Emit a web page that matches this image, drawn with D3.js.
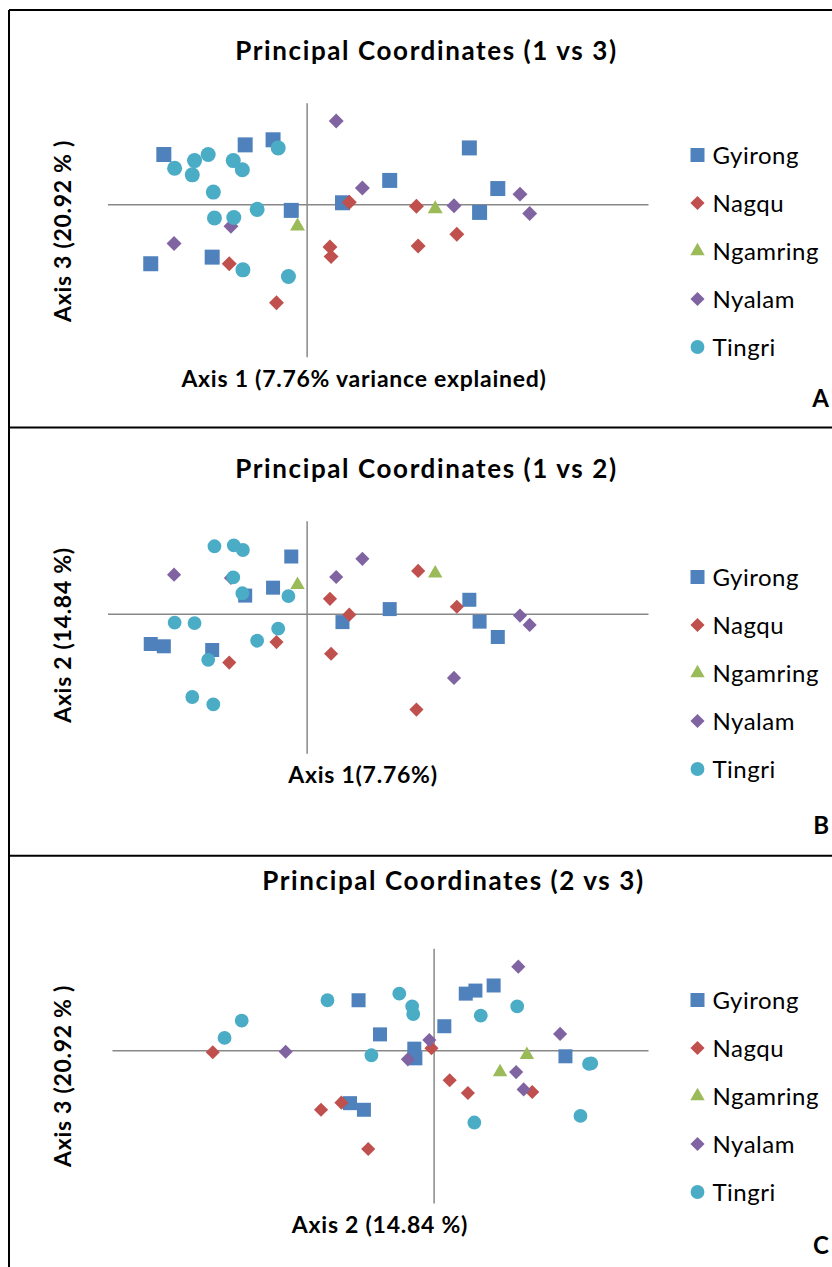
<!DOCTYPE html>
<html lang="en">
<head>
    <meta charset="UTF-8">
    <title>Principal Coordinates</title>
    <style>
        body { margin: 0; background: #fff; }
        svg { display: block; }
        text { font-family: Lato, "Open Sans", sans-serif; fill: #000; }
    </style>
    <script src="https://d3js.org/d3.v7.min.js"></script>
</head>
<body>
<svg id="chart" width="832" height="1267"></svg>
<script>
        // each sample: [axis 1, axis 2, axis 3]
        const groups = ["Gyirong", "Nagqu", "Ngamring", "Nyalam", "Tingri"];

        const gyirong = [
            [-0.251, -0.070, 0.098], [-0.108, 0.039, 0.117], [-0.059, 0.056, 0.127],
            [-0.027, 0.123, -0.012], [-0.274, -0.065, -0.117], [-0.166, -0.078, -0.104],
            [0.063, -0.018, 0.003], [0.146, 0.010, 0.047], [0.286, 0.030, 0.111],
            [0.336, -0.050, 0.031], [0.304, -0.017, -0.016]
        ];
        const nagqu = [
            [0.075, -0.002, 0.004], [0.041, 0.032, -0.084], [0.043, -0.086, -0.103],
            [-0.136, -0.105, -0.117], [-0.053, -0.061, -0.194], [0.193, -0.206, -0.004],
            [0.264, 0.015, -0.059], [0.196, 0.092, -0.082]
        ];
        const ngamring = [
            [-0.016, 0.062, -0.043], [0.226, 0.087, -0.009]
        ];
        const nyalam = [
            [0.052, 0.079, 0.164], [0.098, 0.118, 0.032], [-0.133, 0.077, -0.043],
            [-0.233, 0.084, -0.077], [0.259, -0.138, -0.003], [0.375, -0.004, 0.020],
            [0.392, -0.024, -0.018]
        ];
        const tingri = [
            [-0.050, -0.032, 0.111], [-0.173, -0.099, 0.098], [-0.197, -0.020, 0.086],
            [-0.232, -0.019, 0.071], [-0.201, -0.179, 0.058], [-0.129, 0.078, 0.086],
            [-0.113, 0.044, 0.068], [-0.164, -0.195, 0.024], [-0.087, -0.058, -0.010],
            [-0.162, 0.145, -0.027], [-0.128, 0.147, -0.026], [-0.112, 0.137, -0.129],
            [-0.032, 0.038, -0.142]
        ];
        const series = [gyirong, nagqu, ngamring, nyalam, tingri];

        const axisDomains = [[-0.35, 0.6], [-0.3, 0.2], [-0.3, 0.2]];

        const colors = ["#4f81bd", "#c0504d", "#9bbb59", "#8064a2", "#4bacc6"];
        const shapes = [
            d3.symbol(d3.symbolSquare, 225),
            d3.symbol(d3.symbolSquare, 112),
            d3.symbol(d3.symbolTriangle, 97),
            d3.symbol(d3.symbolSquare, 112),
            d3.symbol(d3.symbolCircle, 177)
        ];
        const legendSizes = [196, 100, 90, 100, 150];
        const rotation = [0, 45, 0, 45, 0];

        const panels = [
            { title: "Principal Coordinates (1 vs 3)", tx: 426.5, ty: 60, xi: 0, yi: 2,
              xr: [107.5, 648], yr: [356.7, 102.7],
              xLab: "Axis 1 (7.76% variance explained)", xlx: 364, xly: 387,
              yLab: "Axis 3 (20.92 % )", yly: 231, legTop: 155, letter: "A", lly: 407 },
            { title: "Principal Coordinates (1 vs 2)", tx: 426.5, ty: 478, xi: 0, yi: 1,
              xr: [107.5, 648], yr: [753.3, 520.7],
              xLab: "Axis 1(7.76%)", xlx: 363, xly: 783,
              yLab: "Axis 2 (14.84 %)", yly: 635, legTop: 577, letter: "B", lly: 834 },
            { title: "Principal Coordinates (2 vs 3)", tx: 453.5, ty: 890, xi: 1, yi: 2,
              xr: [112, 648], yr: [1203, 948.3],
              xLab: "Axis 2 (14.84 %)", xlx: 380, xly: 1233,
              yLab: "Axis 3 (20.92 % )", yly: 1076, legTop: 1000, letter: "C", lly: 1254 }
        ];

        const svg = d3.select("#chart");

        // frame and panel dividers
        const frame = svg.append("g").attr("stroke", "#000").attr("stroke-width", 2);
        frame.append("line").attr("x1", 9).attr("x2", 832).attr("y1", 10).attr("y2", 10);
        frame.append("line").attr("x1", 9).attr("x2", 9).attr("y1", 10).attr("y2", 1267);
        [427.5, 855.7].forEach(y => {
            frame.append("line").attr("x1", 9).attr("x2", 832).attr("y1", y).attr("y2", y);
        });

        panels.forEach(p => {
            const g = svg.append("g");
            const x = d3.scaleLinear().domain(axisDomains[p.xi]).range(p.xr);
            const y = d3.scaleLinear().domain(axisDomains[p.yi]).range(p.yr);

            g.append("text")
                .attr("x", p.tx).attr("y", p.ty)
                .attr("text-anchor", "middle")
                .attr("font-size", 26).attr("font-weight", "bold")
                .attr("letter-spacing", 1.6)
                .text(p.title);

            // axes cross at zero, no ticks or labels
            g.append("g")
                .attr("transform", `translate(0,${y(0)})`)
                .call(d3.axisBottom(x).tickValues([]).tickSizeOuter(0))
                .call(a => a.select(".domain").attr("stroke", "#888").attr("stroke-width", 1.5));
            g.append("g")
                .attr("transform", `translate(${x(0)},0)`)
                .call(d3.axisLeft(y).tickValues([]).tickSizeOuter(0))
                .call(a => a.select(".domain").attr("stroke", "#888").attr("stroke-width", 1.5));

            series.forEach((pts, i) => {
                g.append("g").selectAll("path")
                    .data(pts)
                    .join("path")
                    .attr("d", shapes[i])
                    .attr("transform", d => `translate(${x(d[p.xi])},${y(d[p.yi])}) rotate(${rotation[i]})`)
                    .attr("fill", colors[i]);
            });

            g.append("text")
                .attr("x", p.xlx).attr("y", p.xly)
                .attr("text-anchor", "middle")
                .attr("font-size", 23).attr("font-weight", "bold")
                .attr("letter-spacing", 0.75)
                .text(p.xLab);

            g.append("text")
                .attr("transform", `translate(71,${p.yly}) rotate(-90)`)
                .attr("text-anchor", "middle")
                .attr("font-size", 23).attr("font-weight", "bold")
                .attr("letter-spacing", 0.7)
                .text(p.yLab);

            const leg = g.append("g").selectAll("g")
                .data(groups)
                .join("g")
                .attr("transform", (d, i) => `translate(697.5,${p.legTop + i * 48})`);
            leg.append("path")
                .attr("d", (d, i) => shapes[i].size(legendSizes[i])())
                .attr("transform", (d, i) => `rotate(${rotation[i]})`)
                .attr("fill", (d, i) => colors[i]);
            leg.append("text")
                .attr("x", 15).attr("dy", "0.36em")
                .attr("font-size", 24)
                .attr("letter-spacing", 0.5)
                .text(d => d);

            g.append("text")
                .attr("x", 829).attr("y", p.lly)
                .attr("text-anchor", "end")
                .attr("font-size", 24).attr("font-weight", "bold")
                .text(p.letter);
        });
    </script>
</body>
</html>
